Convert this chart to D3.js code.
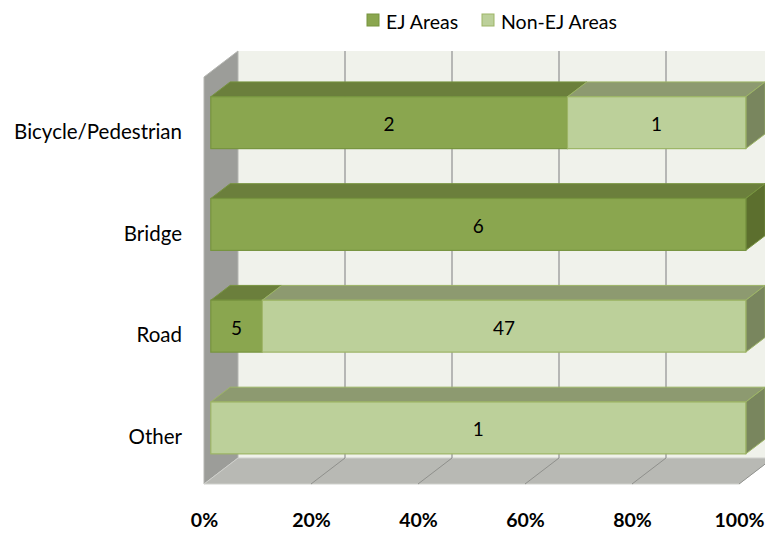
<!DOCTYPE html>
<html>
<head>
<meta charset="utf-8">
<script src="https://cdn.jsdelivr.net/npm/d3@7/dist/d3.min.js"></script>
<style>
  html, body { margin: 0; padding: 0; background: #ffffff; }
  svg { display: block; font-family: Lato, "Open Sans", sans-serif; }
</style>
</head>
<body>
<svg id="chart" width="765" height="533"></svg>
<script>
// Project counts by type and area
const categories = ["Bicycle/Pedestrian", "Bridge", "Road", "Other"];
const ejAreas    = [2, 6, 5, 0];
const nonEjAreas = [1, 0, 47, 1];
const seriesNames = ["EJ Areas", "Non-EJ Areas"];
const tickValues = [0, 0.2, 0.4, 0.6, 0.8, 1.0];

const svg = d3.select("#chart");

// front plane of the 3-D box and the depth vector
const plot = { left: 204, right: 739, top: 77, bottom: 484 };
const depth = { dx: 34, dy: 26 };
const barDepth = [0.2, 0.77];

const x = d3.scaleLinear().domain([0, 1]).range([plot.left, plot.right]);
const y = d3.scaleBand().domain(categories).range([plot.top, plot.bottom])
  .paddingInner(0.49).paddingOuter(0.245);

const colors = {
  ej:    { front: "#8aa64f", top: "#6b7f3c", side: "#5c6f2e", stroke: "#77943f" },
  nonEj: { front: "#bcd09a", top: "#8d9a70", side: "#79865e", stroke: "#9db566" }
};

// project a point given in front-plane coords to a depth fraction d
const P = (px, py, d) => [px + d * depth.dx, py - d * depth.dy];
const poly = pts => pts.map(p => p.join(",")).join(" ");

// walls and floor
const backL = x(0) + depth.dx, backR = x(1) + depth.dx;
const backT = plot.top - depth.dy, backB = plot.bottom - depth.dy;

svg.append("polygon")
  .attr("points", poly([[backL, backT], [backR, backT], [backR, backB], [backL, backB]]))
  .attr("fill", "#f0f2eb");

svg.append("polygon")
  .attr("points", poly([P(x(0), plot.top, 0), P(x(0), plot.top, 1), P(x(0), plot.bottom, 1), P(x(0), plot.bottom, 0)]))
  .attr("fill", "#9c9d99").attr("stroke", "#b5b6b2").attr("stroke-width", 1);

svg.append("polygon")
  .attr("points", poly([P(x(0), plot.bottom, 0), P(x(0), plot.bottom, 1), P(x(1), plot.bottom, 1), P(x(1), plot.bottom, 0)]))
  .attr("fill", "#b8b9b4").attr("stroke", "#d0d1cd").attr("stroke-width", 1);

// gridlines on the back wall and floor
tickValues.slice(1).forEach(t => {
  const [bx, by] = P(x(t), plot.top, 1);
  const [fx, fy] = P(x(t), plot.bottom, 1);
  svg.append("line").attr("x1", bx).attr("y1", by).attr("x2", fx).attr("y2", fy)
    .attr("stroke", "#a3a3a3").attr("stroke-width", 1.5);
  const [gx, gy] = P(x(t), plot.bottom, 0);
  svg.append("line").attr("x1", fx).attr("y1", fy).attr("x2", gx).attr("y2", gy)
    .attr("stroke", "#8f908c").attr("stroke-width", 1);
});

// stacked 3-D bars
categories.forEach((cat, i) => {
  const total = ejAreas[i] + nonEjAreas[i];
  const segs = [
    { v: ejAreas[i], c: colors.ej },
    { v: nonEjAreas[i], c: colors.nonEj }
  ];
  let acc = 0;
  const yTop = y(cat), yBot = y(cat) + y.bandwidth();
  const g = svg.append("g");
  const drawn = [];
  segs.forEach(s => {
    const f0 = acc / total, f1 = (acc + s.v) / total;
    acc += s.v;
    if (s.v === 0) return;
    drawn.push({ f0, f1, s });
  });
  drawn.forEach((d, k) => {
    const x0 = x(d.f0), x1 = x(d.f1);
    const [a, b] = barDepth;
    const c = d.s.c;
    // top face
    g.append("polygon")
      .attr("points", poly([P(x0, yTop, a), P(x1, yTop, a), P(x1, yTop, b), P(x0, yTop, b)]))
      .attr("fill", c.top).attr("stroke", c.stroke).attr("stroke-width", 1);
    // right side face
    if (k === drawn.length - 1) {
      g.append("polygon")
        .attr("points", poly([P(x1, yTop, a), P(x1, yTop, b), P(x1, yBot, b), P(x1, yBot, a)]))
        .attr("fill", c.side).attr("stroke", c.stroke).attr("stroke-width", 1);
    }
    // front face
    const [fx0, fy0] = P(x0, yTop, a);
    const [fx1, fy1] = P(x1, yBot, a);
    g.append("rect")
      .attr("x", fx0).attr("y", fy0).attr("width", fx1 - fx0).attr("height", fy1 - fy0)
      .attr("fill", c.front).attr("stroke", c.stroke).attr("stroke-width", 1.2);
    g.append("text")
      .attr("x", (fx0 + fx1) / 2).attr("y", (fy0 + fy1) / 2 + 1)
      .attr("text-anchor", "middle").attr("dominant-baseline", "central")
      .attr("font-size", 19).attr("fill", "#000")
      .text(d.s.v);
  });
});

// category labels
categories.forEach(cat => {
  svg.append("text")
    .attr("x", 182).attr("y", y(cat) + y.bandwidth() / 2 + 3)
    .attr("text-anchor", "end").attr("dominant-baseline", "central")
    .attr("font-size", 20.5).attr("fill", "#000")
    .text(cat);
});

// percent axis
const axis = d3.axisBottom(x).tickValues(tickValues).tickFormat(d3.format(".0%")).tickSize(0);
const axisG = svg.append("g").attr("transform", `translate(0, ${plot.bottom + 26})`).call(axis);
axisG.select(".domain").remove();
axisG.selectAll("text")
  .attr("font-family", "Lato, 'Open Sans', sans-serif")
  .attr("font-size", 19.5).attr("font-weight", "bold").attr("fill", "#000");

// legend
const legend = svg.append("g").attr("transform", "translate(367, 20)");
const legendItems = [
  { name: seriesNames[0], c: colors.ej, x: 0 },
  { name: seriesNames[1], c: colors.nonEj, x: 115 }
];
legendItems.forEach(it => {
  legend.append("rect").attr("x", it.x).attr("y", -6).attr("width", 12).attr("height", 12)
    .attr("fill", it.c.front).attr("stroke", it.c.stroke);
  legend.append("text").attr("x", it.x + 19).attr("y", 1)
    .attr("dominant-baseline", "central").attr("font-size", 19.5).attr("fill", "#000")
    .text(it.name);
});
</script>
</body>
</html>
